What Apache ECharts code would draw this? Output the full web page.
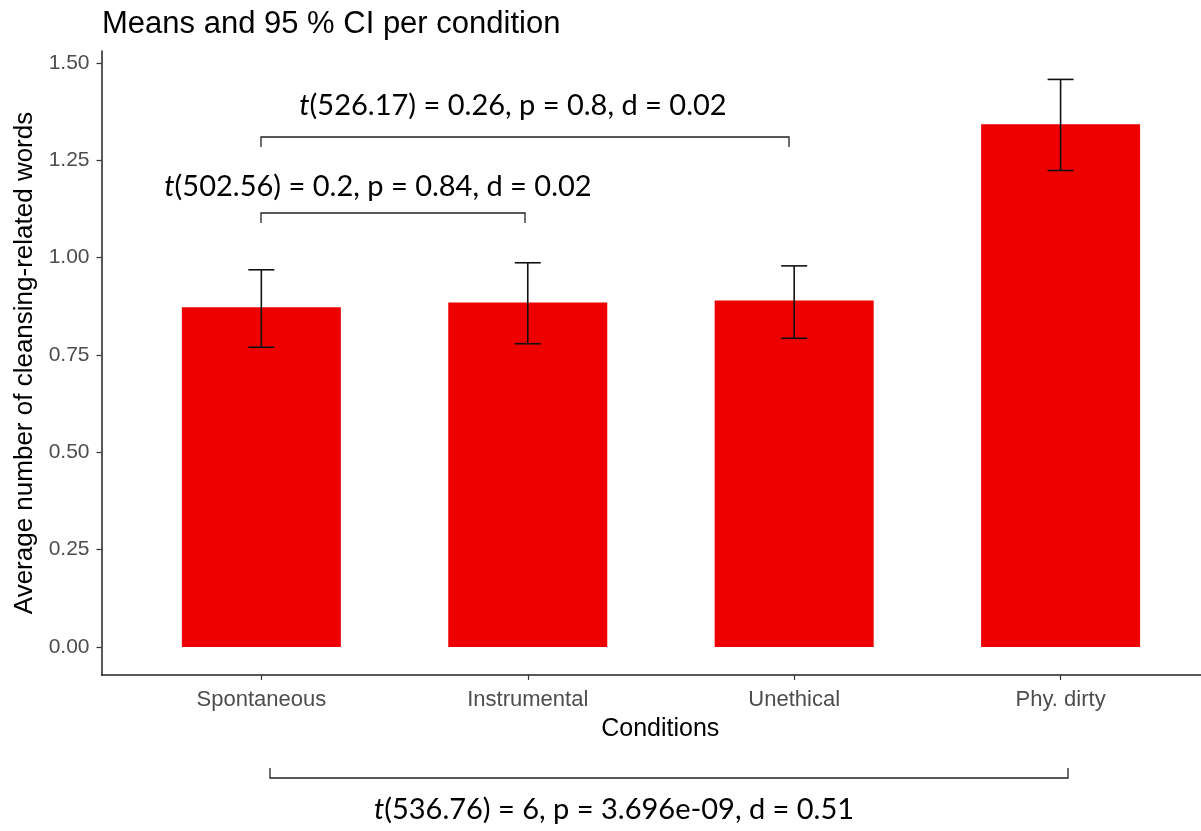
<!DOCTYPE html>
<html><head><meta charset="utf-8">
<script src="https://cdn.jsdelivr.net/npm/echarts@6/dist/echarts.min.js"></script>
<style>html,body{margin:0;padding:0;background:#fff}#c{width:1201px;height:831px}</style>
</head><body><div id="c"></div>
<script>
const categories = ['Spontaneous', 'Instrumental', 'Unethical', 'Phy. dirty'];
const means   = [0.873, 0.885, 0.890, 1.343];
const ciLower = [0.770, 0.779, 0.793, 1.224];
const ciUpper = [0.969, 0.987, 0.979, 1.458];
const yTicks = [0, 0.25, 0.5, 0.75, 1.0, 1.25, 1.5];
const yTickLabels = ['0.00', '0.25', '0.50', '0.75', '1.00', '1.25', '1.50'];
const xTicks = [1, 2, 3, 4];
const annoTexts = [
  '(526.17) = 0.26, p = 0.8, d = 0.02',
  '(502.56) = 0.2, p = 0.84, d = 0.02',
  '(536.76) = 6, p = 3.696e-09, d = 0.51'
];

const chart = echarts.init(document.getElementById('c'), null, {renderer: 'canvas'});
const SANS = '"Liberation Sans", Arial, sans-serif';
const ANNO = 'Lato, "Open Sans", sans-serif';
const AFS = 29;
const annoRich = {
  i: {fontStyle: 'italic', fontFamily: ANNO, fontSize: AFS, fill: '#000'},
  n: {fontFamily: ANNO, fontSize: AFS, fill: '#000'}
};
function annoText(s, x, y) {
  return {type: 'text', x: x, y: y, style: {
    text: '{i|t}{n|' + s + '}', rich: annoRich, align: 'center', verticalAlign: 'middle',
    fontFamily: ANNO, fontSize: AFS, fill: '#000'}};
}
function bracket(x1, x2, y, dy) {
  return {type: 'polyline', shape: {points: [[x1, y + dy], [x1, y], [x2, y], [x2, y + dy]]},
    style: {stroke: '#222', lineWidth: 1.3, fill: null}};
}

chart.setOption({
  animation: false,
  backgroundColor: '#fff',
  title: {
    text: 'Means and 95 % CI per condition', left: 102, top: 9, padding: 0,
    textStyle: {fontFamily: SANS, fontSize: 31, fontWeight: 'normal', color: '#000'}
  },
  grid: {left: 101.5, right: 0, top: 51, bottom: 156, containLabel: false},
  xAxis: {
    type: 'value', min: 0.4, max: 4.527,
    name: 'Conditions', nameLocation: 'middle', nameGap: 42,
    nameTextStyle: {fontFamily: SANS, fontSize: 25, color: '#000', padding: [0, 0, 0, 18]},
    axisLine: {show: true, onZero: false, lineStyle: {color: '#222', width: 1.5}},
    axisTick: {show: true, customValues: xTicks, length: 5, lineStyle: {color: '#333', width: 1.2}},
    axisLabel: {customValues: xTicks, margin: 14, fontFamily: SANS, fontSize: 22, color: '#4D4D4D',
      formatter: v => categories[Math.round(v) - 1]},
    splitLine: {show: false}
  },
  yAxis: {
    type: 'value', min: -0.072, max: 1.531,
    name: 'Average number of cleansing-related words', nameLocation: 'middle', nameGap: 49,
    nameTextStyle: {fontFamily: SANS, fontSize: 26, color: '#000'},
    axisLine: {show: true, onZero: false, lineStyle: {color: '#222', width: 1.5}},
    axisTick: {show: true, customValues: yTicks, length: 5, lineStyle: {color: '#333', width: 1.2}},
    axisLabel: {customValues: yTicks, margin: 12, fontFamily: SANS, fontSize: 21, color: '#4D4D4D',
      formatter: v => yTickLabels[yTicks.findIndex(t => Math.abs(t - v) < 1e-9)]},
    splitLine: {show: false}
  },
  series: [
    {
      type: 'bar', barWidth: 159,
      data: means.map((m, i) => [xTicks[i], m]),
      itemStyle: {color: '#EE0000'}
    },
    {
      type: 'custom',
      data: ciLower.map((lo, i) => [xTicks[i], lo, ciUpper[i]]),
      renderItem: function (params, api) {
        const x = api.value(0);
        const pLo = api.coord([x, api.value(1)]);
        const pHi = api.coord([x, api.value(2)]);
        const half = 13;
        const st = {stroke: '#111', lineWidth: 1.6};
        return {type: 'group', children: [
          {type: 'line', shape: {x1: pLo[0], y1: pLo[1], x2: pHi[0], y2: pHi[1]}, style: st},
          {type: 'line', shape: {x1: pLo[0] - half, y1: pLo[1], x2: pLo[0] + half, y2: pLo[1]}, style: st},
          {type: 'line', shape: {x1: pHi[0] - half, y1: pHi[1], x2: pHi[0] + half, y2: pHi[1]}, style: st}
        ]};
      },
      z: 5
    }
  ],
  graphic: [
    annoText(annoTexts[0], 513, 106),
    bracket(261, 789, 137, 10),
    annoText(annoTexts[1], 378, 187),
    bracket(261, 525, 213, 10),
    bracket(270, 1068, 778, -10),
    annoText(annoTexts[2], 614, 810)
  ]
});
</script>
</body></html>
